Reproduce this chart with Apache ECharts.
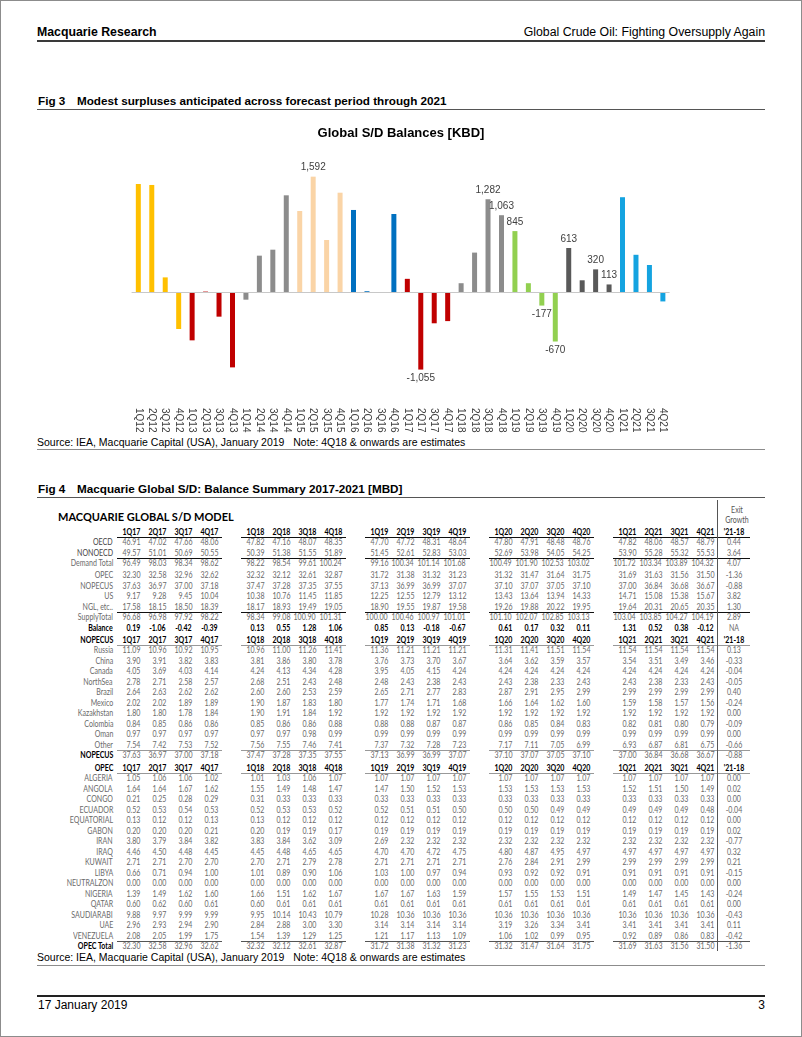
<!DOCTYPE html>
<html>
<head>
<meta charset="utf-8">
<script src="https://cdn.jsdelivr.net/npm/echarts/dist/echarts.min.js"></script>
<style>
  body { margin: 0; background: #fff; }
  #page { position: relative; width: 802px; height: 1037px; overflow: hidden; background: #fff;
          font-family: "Liberation Sans", Arial, sans-serif; color: #000; }
  #frame { position: absolute; left: 0; top: 0; width: 802px; height: 1037px; box-sizing: border-box;
           border: 1px solid #8c8c8c; pointer-events: none; }
  .a { position: absolute; white-space: nowrap; }
  .rule { position: absolute; }
  .t { position: absolute; white-space: nowrap; font-family: Lato, "Open Sans", sans-serif; font-size: 8.8px;
       line-height: 12px; height: 12px; color: #6a6a6a; }
  .b { font-weight: bold; color: #000; }
</style>
</head>
<body>
<div id="page">
  <div class="a" style="left:37px;top:25px;font-size:12.3px;line-height:14px;font-weight:bold;">Macquarie Research</div>
  <div class="a" style="right:37px;top:25px;font-size:12.3px;line-height:14px;">Global Crude Oil: Fighting Oversupply Again</div>
  <div class="rule" style="left:37px;top:40px;width:728px;height:2px;background:#3a3a3a;"></div>

  <div class="a" style="left:38px;top:94px;font-size:11.7px;line-height:14px;font-weight:bold;">Fig 3</div>
  <div class="a" style="left:77px;top:94px;font-size:11.7px;line-height:14px;font-weight:bold;">Modest surpluses anticipated across forecast period through 2021</div>
  <div class="rule" style="left:37px;top:109px;width:728px;height:1px;background:#555;"></div>

  <div id="chart" style="position:absolute;left:0;top:110px;width:802px;height:326px;"></div>

  <div class="a" style="left:37px;top:436px;font-size:10.5px;line-height:13px;">Source: IEA, Macquarie Capital (USA), January 2019&nbsp;&nbsp;&nbsp;Note: 4Q18 &amp; onwards are estimates</div>
  <div class="rule" style="left:37px;top:449px;width:728px;height:1px;background:#8c8c8c;"></div>

  <div class="a" style="left:38px;top:482px;font-size:11.7px;line-height:14px;font-weight:bold;">Fig 4</div>
  <div class="a" style="left:77px;top:482px;font-size:11.7px;line-height:14px;font-weight:bold;">Macquarie Global S/D: Balance Summary 2017-2021 [MBD]</div>
  <div class="rule" style="left:37px;top:497px;width:728px;height:1px;background:#555;"></div>

  <div id="table"></div>

  <div class="a" style="left:37px;top:951px;font-size:10.5px;line-height:13px;">Source: IEA, Macquarie Capital (USA), January 2019&nbsp;&nbsp;&nbsp;Note: 4Q18 &amp; onwards are estimates</div>
  <div class="rule" style="left:37px;top:965px;width:728px;height:1px;background:#8c8c8c;"></div>

  <div class="rule" style="left:37px;top:995px;width:728px;height:2px;background:#222;"></div>
  <div class="a" style="left:38px;top:998px;font-size:12px;line-height:14px;">17 January 2019</div>
  <div class="a" style="right:37px;top:998px;font-size:12px;line-height:14px;">3</div>

  <div id="frame"></div>
</div>

<script>
// ---------------- Chart data (KBD) ----------------
const chartQuarters = ['1Q12','2Q12','3Q12','4Q12','1Q13','2Q13','3Q13','4Q13','1Q14','2Q14','3Q14','4Q14',
  '1Q15','2Q15','3Q15','4Q15','1Q16','2Q16','3Q16','4Q16','1Q17','2Q17','3Q17','4Q17','1Q18','2Q18','3Q18','4Q18',
  '1Q19','2Q19','3Q19','4Q19','1Q20','2Q20','3Q20','4Q20','1Q21','2Q21','3Q21','4Q21'];
const balanceKbd = [1491, 1478, 210, -498, -654, 15, -329, -1025, -96, 508, 590, 1336,
  1121, 1592, 723, 1372, 1135, 20, 0, 1080, 190, -1055, -420, -390, 130, 550, 1282, 1063,
  845, 130, -177, -670, 613, 170, 320, 113, 1310, 520, 380, -120];
const labeledQuarters = ['2Q15','2Q17','3Q18','4Q18','1Q19','3Q19','4Q19','1Q20','3Q20','4Q20'];
const yearColors = { '12':'#FFC000', '13':'#C00000', '14':'#8C8C8C', '15':'#FAD4A6', '16':'#0070C0',
  '17':'#C00000', '18':'#8C8C8C', '19':'#92D050', '20':'#595959', '21':'#14A3E0' };

// ---------------- Table data (MBD) ----------------
const quarters = ['1Q17','2Q17','3Q17','4Q17','1Q18','2Q18','3Q18','4Q18','1Q19','2Q19','3Q19','4Q19',
  '1Q20','2Q20','3Q20','4Q20','1Q21','2Q21','3Q21','4Q21'];
const exitHeader = "'21-18";
// last element of each row = Exit Growth '21-18
const demandOECD    = [46.91,47.02,47.66,48.06, 47.82,47.16,48.07,48.35, 47.70,47.72,48.31,48.64, 47.80,47.91,48.48,48.76, 47.82,48.06,48.57,48.79, 0.44];
const demandNonOECD = [49.57,51.01,50.69,50.55, 50.39,51.38,51.55,51.89, 51.45,52.61,52.83,53.03, 52.69,53.98,54.05,54.25, 53.90,55.28,55.32,55.53, 3.64];
const demandTotal   = [96.49,98.03,98.34,98.62, 98.22,98.54,99.61,100.24, 99.16,100.34,101.14,101.68, 100.49,101.90,102.53,103.02, 101.72,103.34,103.89,104.32, 4.07];
const supplyOPEC    = [32.30,32.58,32.96,32.62, 32.32,32.12,32.61,32.87, 31.72,31.38,31.32,31.23, 31.32,31.47,31.64,31.75, 31.69,31.63,31.56,31.50, -1.36];
const supplyNOPECUS = [37.63,36.97,37.00,37.18, 37.47,37.28,37.35,37.55, 37.13,36.99,36.99,37.07, 37.10,37.07,37.05,37.10, 37.00,36.84,36.68,36.67, -0.88];
const supplyUS      = [9.17,9.28,9.45,10.04, 10.38,10.76,11.45,11.85, 12.25,12.55,12.79,13.12, 13.43,13.64,13.94,14.33, 14.71,15.08,15.38,15.67, 3.82];
const supplyNGL     = [17.58,18.15,18.50,18.39, 18.17,18.93,19.49,19.05, 18.90,19.55,19.87,19.58, 19.26,19.88,20.22,19.95, 19.64,20.31,20.65,20.35, 1.30];
const supplyTotal   = [96.68,96.98,97.92,98.22, 98.34,99.08,100.90,101.31, 100.00,100.46,100.97,101.01, 101.10,102.07,102.85,103.13, 103.04,103.85,104.27,104.19, 2.89];
const balance       = [0.19,-1.06,-0.42,-0.39, 0.13,0.55,1.28,1.06, 0.85,0.13,-0.18,-0.67, 0.61,0.17,0.32,0.11, 1.31,0.52,0.38,-0.12, null];

const russia     = [11.09,10.96,10.92,10.95, 10.96,11.00,11.26,11.41, 11.36,11.21,11.21,11.21, 11.31,11.41,11.51,11.54, 11.54,11.54,11.54,11.54, 0.13];
const china      = [3.90,3.91,3.82,3.83, 3.81,3.86,3.80,3.78, 3.76,3.73,3.70,3.67, 3.64,3.62,3.59,3.57, 3.54,3.51,3.49,3.46, -0.33];
const canada     = [4.05,3.69,4.03,4.14, 4.24,4.13,4.34,4.28, 3.95,4.05,4.15,4.24, 4.24,4.24,4.24,4.24, 4.24,4.24,4.24,4.24, -0.04];
const northSea   = [2.78,2.71,2.58,2.57, 2.68,2.51,2.43,2.48, 2.48,2.43,2.38,2.43, 2.43,2.38,2.33,2.43, 2.43,2.38,2.33,2.43, -0.05];
const brazil     = [2.64,2.63,2.62,2.62, 2.60,2.60,2.53,2.59, 2.65,2.71,2.77,2.83, 2.87,2.91,2.95,2.99, 2.99,2.99,2.99,2.99, 0.40];
const mexico     = [2.02,2.02,1.89,1.89, 1.90,1.87,1.83,1.80, 1.77,1.74,1.71,1.68, 1.66,1.64,1.62,1.60, 1.59,1.58,1.57,1.56, -0.24];
const kazakhstan = [1.80,1.80,1.78,1.84, 1.90,1.91,1.84,1.92, 1.92,1.92,1.92,1.92, 1.92,1.92,1.92,1.92, 1.92,1.92,1.92,1.92, 0.00];
const colombia   = [0.84,0.85,0.86,0.86, 0.85,0.86,0.86,0.88, 0.88,0.88,0.87,0.87, 0.86,0.85,0.84,0.83, 0.82,0.81,0.80,0.79, -0.09];
const oman       = [0.97,0.97,0.97,0.97, 0.97,0.97,0.98,0.99, 0.99,0.99,0.99,0.99, 0.99,0.99,0.99,0.99, 0.99,0.99,0.99,0.99, 0.00];
const otherNop   = [7.54,7.42,7.53,7.52, 7.56,7.55,7.46,7.41, 7.37,7.32,7.28,7.23, 7.17,7.11,7.05,6.99, 6.93,6.87,6.81,6.75, -0.66];

const algeria    = [1.05,1.06,1.06,1.02, 1.01,1.03,1.06,1.07, 1.07,1.07,1.07,1.07, 1.07,1.07,1.07,1.07, 1.07,1.07,1.07,1.07, 0.00];
const angola     = [1.64,1.64,1.67,1.62, 1.55,1.49,1.48,1.47, 1.47,1.50,1.52,1.53, 1.53,1.53,1.53,1.53, 1.52,1.51,1.50,1.49, 0.02];
const congo      = [0.21,0.25,0.28,0.29, 0.31,0.33,0.33,0.33, 0.33,0.33,0.33,0.33, 0.33,0.33,0.33,0.33, 0.33,0.33,0.33,0.33, 0.00];
const ecuador    = [0.52,0.53,0.54,0.53, 0.52,0.53,0.53,0.52, 0.52,0.51,0.51,0.50, 0.50,0.50,0.49,0.49, 0.49,0.49,0.49,0.48, -0.04];
const equatorial = [0.13,0.12,0.12,0.13, 0.13,0.12,0.12,0.12, 0.12,0.12,0.12,0.12, 0.12,0.12,0.12,0.12, 0.12,0.12,0.12,0.12, 0.00];
const gabon      = [0.20,0.20,0.20,0.21, 0.20,0.19,0.19,0.17, 0.19,0.19,0.19,0.19, 0.19,0.19,0.19,0.19, 0.19,0.19,0.19,0.19, 0.02];
const iran       = [3.80,3.79,3.84,3.82, 3.83,3.84,3.62,3.09, 2.69,2.32,2.32,2.32, 2.32,2.32,2.32,2.32, 2.32,2.32,2.32,2.32, -0.77];
const iraq       = [4.46,4.50,4.48,4.45, 4.45,4.48,4.65,4.65, 4.70,4.70,4.72,4.75, 4.80,4.87,4.95,4.97, 4.97,4.97,4.97,4.97, 0.32];
const kuwait     = [2.71,2.71,2.70,2.70, 2.70,2.71,2.79,2.78, 2.71,2.71,2.71,2.71, 2.76,2.84,2.91,2.99, 2.99,2.99,2.99,2.99, 0.21];
const libya      = [0.66,0.71,0.94,1.00, 1.01,0.89,0.90,1.06, 1.03,1.00,0.97,0.94, 0.93,0.92,0.92,0.91, 0.91,0.91,0.91,0.91, -0.15];
const neutralZone= [0.00,0.00,0.00,0.00, 0.00,0.00,0.00,0.00, 0.00,0.00,0.00,0.00, 0.00,0.00,0.00,0.00, 0.00,0.00,0.00,0.00, 0.00];
const nigeria    = [1.39,1.49,1.62,1.60, 1.66,1.51,1.62,1.67, 1.67,1.67,1.63,1.59, 1.57,1.55,1.53,1.51, 1.49,1.47,1.45,1.43, -0.24];
const qatar      = [0.60,0.62,0.60,0.61, 0.60,0.61,0.61,0.61, 0.61,0.61,0.61,0.61, 0.61,0.61,0.61,0.61, 0.61,0.61,0.61,0.61, 0.00];
const saudiArabia= [9.88,9.97,9.99,9.99, 9.95,10.14,10.43,10.79, 10.28,10.36,10.36,10.36, 10.36,10.36,10.36,10.36, 10.36,10.36,10.36,10.36, -0.43];
const uae        = [2.96,2.93,2.94,2.90, 2.84,2.88,3.00,3.30, 3.14,3.14,3.14,3.14, 3.19,3.26,3.34,3.41, 3.41,3.41,3.41,3.41, 0.11];
const venezuela  = [2.08,2.05,1.99,1.75, 1.54,1.39,1.29,1.25, 1.21,1.17,1.13,1.09, 1.06,1.02,0.99,0.95, 0.92,0.89,0.86,0.83, -0.42];
const opecTotal  = [32.30,32.58,32.96,32.62, 32.32,32.12,32.61,32.87, 31.72,31.38,31.32,31.23, 31.32,31.47,31.64,31.75, 31.69,31.63,31.56,31.50, -1.36];

// ---------------- Chart ----------------
const chart = echarts.init(document.getElementById('chart'), null, { renderer: 'canvas' });
const barData = balanceKbd.map((v, i) => {
  const q = chartQuarters[i];
  const show = labeledQuarters.indexOf(q) >= 0;
  return {
    value: v,
    itemStyle: { color: yearColors[q.slice(2)] },
    label: { show: show, position: v < 0 ? 'bottom' : 'top' }
  };
});
chart.setOption({
  animation: false,
  title: {
    text: 'Global S/D Balances [KBD]', left: 'center', top: 12,
    textStyle: { fontFamily: 'Liberation Sans, Arial', fontSize: 13, fontWeight: 'bold', color: '#000' }
  },
  grid: { left: 131.6, width: 538, top: 51.5, height: 240.5 },
  xAxis: {
    type: 'category', data: chartQuarters,
    axisLine: { show: false }, axisTick: { show: false },
    axisLabel: { rotate: -90, interval: 0, margin: 6, fontSize: 10, color: '#404040', fontFamily: 'Liberation Sans, Arial' }
  },
  yAxis: { type: 'value', min: -1500, max: 1800, show: false },
  series: [{
    type: 'bar', data: barData, barWidth: 5,
    label: {
      distance: 4, fontSize: 10, color: '#404040', fontFamily: 'Liberation Sans, Arial',
      formatter: p => p.value.toLocaleString('en-US')
    },
    markLine: {
      silent: true, symbol: 'none', label: { show: false },
      lineStyle: { color: '#c8c8c8', type: 'solid', width: 1 },
      data: [{ yAxis: 0 }]
    }
  }]
});

// ---------------- Table ----------------
const layout = {
  labelRight: 113, colRight0: 140, groupStep: 124, colStep: 26,
  rowY0: 531.7, rowStep: 10.5, squeeze: 0.8
};
layout.vline = layout.colRight0 + 4 * layout.groupStep + 3 * layout.colStep + 3;
layout.exitCenter = layout.vline + 17;
layout.lineRightEnd = layout.vline + 33;

const rows = [
  { head: true, label: '' },
  { label: 'OECD', vals: demandOECD, labelColor: '#444' },
  { label: 'NONOECD', vals: demandNonOECD, labelColor: '#444', lineBelow: '#111' },
  { label: 'Demand Total', vals: demandTotal, gapAfter: 1.5 },
  { label: 'OPEC', vals: supplyOPEC },
  { label: 'NOPECUS', vals: supplyNOPECUS },
  { label: 'US', vals: supplyUS },
  { label: 'NGL, etc..', vals: supplyNGL, lineBelow: '#111' },
  { label: 'SupplyTotal', vals: supplyTotal },
  { label: 'Balance', vals: balance, bold: true, gapAfter: 1.5 },
  { head: true, label: 'NOPECUS', lineColor: '#999' },
  { label: 'Russia', vals: russia },
  { label: 'China', vals: china },
  { label: 'Canada', vals: canada },
  { label: 'NorthSea', vals: northSea },
  { label: 'Brazil', vals: brazil },
  { label: 'Mexico', vals: mexico },
  { label: 'Kazakhstan', vals: kazakhstan },
  { label: 'Colombia', vals: colombia },
  { label: 'Oman', vals: oman },
  { label: 'Other', vals: otherNop, lineBelow: '#999' },
  { label: 'NOPECUS', vals: supplyNOPECUS, boldLabel: true, gapAfter: 2 },
  { head: true, label: 'OPEC', lineColor: '#999' },
  { label: 'ALGERIA', vals: algeria },
  { label: 'ANGOLA', vals: angola },
  { label: 'CONGO', vals: congo },
  { label: 'ECUADOR', vals: ecuador },
  { label: 'EQUATORIAL', vals: equatorial },
  { label: 'GABON', vals: gabon },
  { label: 'IRAN', vals: iran },
  { label: 'IRAQ', vals: iraq },
  { label: 'KUWAIT', vals: kuwait },
  { label: 'LIBYA', vals: libya },
  { label: 'NEUTRALZON', vals: neutralZone },
  { label: 'NIGERIA', vals: nigeria },
  { label: 'QATAR', vals: qatar },
  { label: 'SAUDIARABI', vals: saudiArabia },
  { label: 'UAE', vals: uae },
  { label: 'VENEZUELA', vals: venezuela, lineBelow: '#555' },
  { label: 'OPEC Total', vals: opecTotal, boldLabel: true }
];

const tbl = document.getElementById('table');
function addText(txt, x, y, align, cls, color) {
  const d = document.createElement('div');
  d.className = 't' + (cls ? ' ' + cls : '');
  d.textContent = txt;
  d.style.top = (y - 6) + 'px';
  if (align === 'right') {
    d.style.right = (802 - x) + 'px'; d.style.textAlign = 'right';
    d.style.transformOrigin = 'right center';
  } else if (align === 'center') {
    d.style.left = (x - 30) + 'px'; d.style.width = '60px'; d.style.textAlign = 'center';
    d.style.transformOrigin = 'center center';
  } else {
    d.style.left = x + 'px'; d.style.transformOrigin = 'left center';
  }
  d.style.transform = 'scaleX(' + layout.squeeze + ')';
  if (color) d.style.color = color;
  tbl.appendChild(d);
}
function addLine(x1, x2, y, color, h) {
  const d = document.createElement('div');
  d.className = 'rule';
  d.style.left = x1 + 'px'; d.style.width = (x2 - x1) + 'px';
  d.style.top = y + 'px'; d.style.height = (h || 1) + 'px';
  d.style.background = color;
  tbl.appendChild(d);
}
function colRight(i) {
  const g = Math.floor(i / 4), c = i % 4;
  return layout.colRight0 + g * layout.groupStep + c * layout.colStep;
}
function groupLines(y, color) {
  for (let g = 0; g < 5; g++) {
    const x1 = colRight(g * 4) - 23;
    const x2 = g === 4 ? layout.lineRightEnd : colRight(g * 4 + 3) + 4;
    addLine(x1, x2, y, color, 1);
  }
}

// table title & exit growth header
const titleDiv = document.createElement('div');
titleDiv.className = 't b';
titleDiv.style.cssText = 'left:58px;top:510px;font-size:11px;line-height:14px;height:14px;';
titleDiv.textContent = 'MACQUARIE GLOBAL S/D MODEL';
tbl.appendChild(titleDiv);
addText('Exit', layout.exitCenter + 3, 509.5, 'center', '', '#555');
addText('Growth', layout.exitCenter + 3, 520, 'center', '', '#555');

let y = layout.rowY0;
rows.forEach(r => {
  if (r.head) {
    if (r.label) addText(r.label, layout.labelRight, y, 'right', 'b');
    quarters.forEach((q, i) => addText(q, colRight(i), y, 'right', 'b'));
    addText(exitHeader, layout.exitCenter, y, 'center', 'b');
    groupLines(y + 5.5, r.lineColor || '#111');
  } else {
    addText(r.label, layout.labelRight, y, 'right', (r.bold || r.boldLabel) ? 'b' : '', r.labelColor);
    r.vals.slice(0, 20).forEach((v, i) =>
      addText(v.toFixed(2), colRight(i), y, 'right', r.bold ? 'b' : ''));
    const ex = r.vals[20];
    addText(ex === null ? 'NA' : ex.toFixed(2), layout.exitCenter, y, 'center', '');
    if (r.lineBelow) groupLines(y + 5.5, r.lineBelow);
  }
  y += layout.rowStep + (r.gapAfter || 0);
});
// vertical separator before the Exit Growth column
addLine(layout.vline, layout.vline + 1, 500, '#555', y - layout.rowStep + 5 - 500);
</script>
</body>
</html>
